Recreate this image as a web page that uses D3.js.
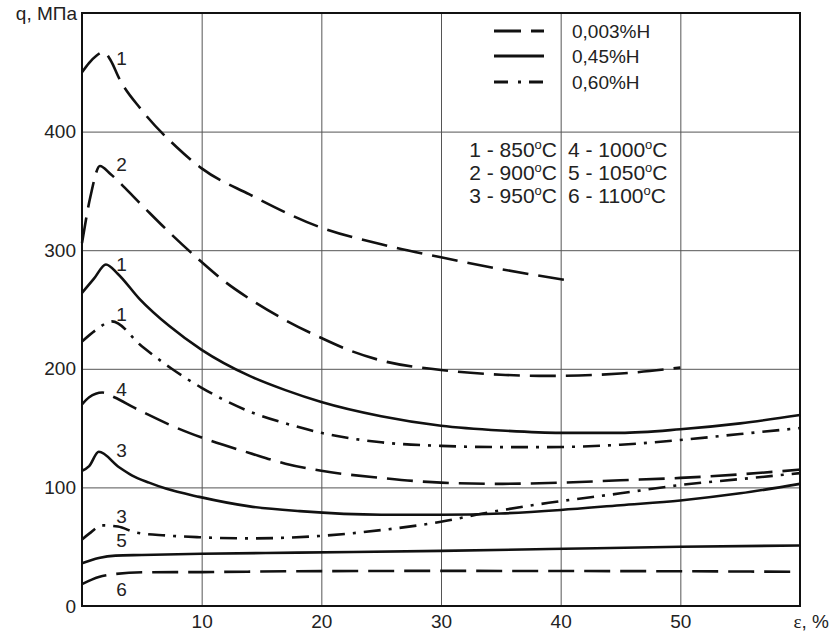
<!DOCTYPE html>
<html lang="ru">
<head>
<meta charset="utf-8">
<title>q(ε)</title>
<script src="https://d3js.org/d3.v7.min.js"></script>
<style>
  body { margin: 0; background: #fff; overflow: hidden; }
  svg { display: block; font-family: "Liberation Sans", Arial, sans-serif; }
  .grid line { stroke: #555; stroke-width: 1; }
  .grid path { display: none; }
  .axis path, .axis line { display: none; }
  .axis text { font-size: 19px; fill: #222; font-family: "Liberation Sans", Arial, sans-serif; }
  .curve { fill: none; stroke: #111; stroke-width: 2.6; stroke-linecap: butt; }
  .lbl { font-size: 19px; fill: #222; }
</style>
</head>
<body>
<script>
// --- data (ε in %, q in MPa) ---
var xTicks = [10, 20, 30, 40, 50];
var yTicks = [0, 100, 200, 300, 400];

// 0,003%H
var epsA1 = [0, 0.6, 1.2, 1.8, 2.4, 3.1, 5, 7.9, 10, 14, 20, 25, 30, 35, 41];
var qA1   = [450, 458, 464, 467, 460, 445, 418, 387, 369, 347, 319, 305, 294, 284, 274];
var epsA2 = [0, 0.7, 1.5, 2.4, 4.8, 7.3, 10, 12, 14, 17, 20, 22.5, 25, 30, 35, 39, 45, 50];
var qA2   = [306, 345, 371, 364, 340, 315, 290, 273, 259, 241, 226, 215, 207, 199, 195, 194, 196, 201];
var epsA4 = [0, 0.6, 1.7, 2.7, 4.4, 5.4, 7.5, 10, 14, 17, 20, 25, 30, 35, 40, 45, 50, 55, 60];
var qA4   = [170, 176, 180, 176, 167, 162, 152, 142, 129, 120, 114, 108, 104, 103, 104, 106, 108, 111, 115];
var epsA6 = [0, 1.4, 2.8, 5.6, 10, 18, 30, 40, 50, 60];
var qA6   = [18.5, 24.5, 27, 28.5, 28.6, 29.3, 29.6, 29.5, 29.3, 28.8];

// 0,45%H
var epsB1 = [0, 1, 2, 3, 4.8, 7.3, 10, 14, 17, 20, 25, 30, 35, 40, 45, 50, 55, 60];
var qB1   = [264, 276, 288, 280, 259, 236, 216, 194, 182, 172, 160, 152, 148, 146, 146, 149, 154, 161];
var epsB3 = [0, 0.6, 1.4, 3.1, 4.2, 5.6, 7, 9.8, 14, 18.2, 25, 30, 35, 40, 45, 50, 55, 60];
var qB3   = [114, 118, 130, 117, 110, 104, 99, 92, 84, 80, 77, 77, 78, 81, 85, 89, 95, 103];
var epsB5 = [0, 1.4, 2.8, 5, 10, 18, 30, 39, 50, 60];
var qB5   = [36, 40.5, 42.5, 43, 44, 45, 46.5, 48, 50, 51];

// 0,60%H
var epsC1 = [0, 1.2, 2.5, 5, 7.5, 10, 14, 17, 20, 25, 30, 35, 39, 45, 50, 55, 60];
var qC1   = [223, 233, 240, 219, 200, 184, 164, 154, 146, 138, 135, 134, 134, 136, 140, 145, 150];
var epsC3 = [0, 0.6, 1.7, 3, 4.5, 7, 9.8, 14, 19.8, 25, 30, 33.5, 39, 45, 50, 55, 60];
var qC3   = [56, 61, 68, 67, 62, 59.5, 58, 57, 59, 64, 71, 78, 87, 95, 102, 107, 112];

var seriesNames = ['0,003%H', '0,45%H', '0,60%H'];
var tempLabels = ['1 - 850', '2 - 900', '3 - 950', '4 - 1000', '5 - 1050', '6 - 1100'];

// curve number labels: [number, ε, q] of the label spot
var curveLabels = [['1', 3.3, 462], ['2', 3.3, 372], ['1', 3.3, 288], ['1', 3.3, 246],
                   ['4', 3.3, 183], ['3', 3.3, 131], ['3', 3.3, 76], ['5', 3.3, 55], ['6', 3.3, 14]];

var dashes = {'0,003%H': '26,10', '0,45%H': null, '0,60%H': '17,8,3,8'};

var curves = [
  {s: '0,003%H', x: epsA1, y: qA1}, {s: '0,003%H', x: epsA2, y: qA2},
  {s: '0,003%H', x: epsA4, y: qA4}, {s: '0,003%H', x: epsA6, y: qA6},
  {s: '0,45%H', x: epsB1, y: qB1}, {s: '0,45%H', x: epsB3, y: qB3},
  {s: '0,45%H', x: epsB5, y: qB5},
  {s: '0,60%H', x: epsC1, y: qC1}, {s: '0,60%H', x: epsC3, y: qC3}
];

// --- layout ---
var W = 832, H = 632;
var mLeft = 82, mRight = 800, mTop = 13, mBottom = 606;

var x = d3.scaleLinear().domain([0, 60]).range([mLeft, mRight]);
var y = d3.scaleLinear().domain([0, 500]).range([mBottom, mTop]);

var svg = d3.select('body').append('svg')
    .attr('width', W)
    .attr('height', H);

// grid
svg.append('g')
    .attr('class', 'grid')
    .attr('transform', 'translate(0,' + mBottom + ')')
    .call(d3.axisBottom(x).tickValues(xTicks).tickSize(-(mBottom - mTop)).tickFormat(''));
svg.append('g')
    .attr('class', 'grid')
    .attr('transform', 'translate(' + mLeft + ',0)')
    .call(d3.axisLeft(y).tickValues(yTicks.slice(1)).tickSize(-(mRight - mLeft)).tickFormat(''));

// tick labels
svg.append('g')
    .attr('class', 'axis')
    .attr('transform', 'translate(0,' + mBottom + ')')
    .call(d3.axisBottom(x).tickValues(xTicks).tickSize(0).tickPadding(9));
svg.append('g')
    .attr('class', 'axis')
    .attr('transform', 'translate(' + mLeft + ',0)')
    .call(d3.axisLeft(y).tickValues(yTicks).tickSize(0).tickPadding(6));

// frame
svg.append('rect')
    .attr('x', mLeft).attr('y', mTop)
    .attr('width', mRight - mLeft).attr('height', mBottom - mTop)
    .attr('fill', 'none').attr('stroke', '#111').attr('stroke-width', 2);

// axis titles
svg.append('text').attr('class', 'lbl')
    .attr('x', 77).attr('y', 20).attr('text-anchor', 'end')
    .text('q, МПа');
var et = svg.append('text').attr('class', 'lbl')
    .attr('x', 829).attr('y', 628).attr('text-anchor', 'end');
et.append('tspan').style('font-family', '"Liberation Serif", "Times New Roman", serif').text('ε');
et.append('tspan').text(', %');

// curves
var line = d3.line()
    .x(function(d) { return x(d[0]); })
    .y(function(d) { return y(d[1]); })
    .curve(d3.curveMonotoneX);

svg.selectAll('.curve')
    .data(curves)
  .enter().append('path')
    .attr('class', 'curve')
    .attr('d', function(c) { return line(d3.zip(c.x, c.y)); })
    .attr('stroke-dasharray', function(c) { return dashes[c.s]; });

// curve numbers
svg.selectAll('.num')
    .data(curveLabels)
  .enter().append('text')
    .attr('class', 'lbl num')
    .attr('x', function(d) { return x(d[1]); })
    .attr('y', function(d) { return y(d[2]); })
    .attr('text-anchor', 'middle')
    .attr('dy', '0.35em')
    .text(function(d) { return d[0]; });

// legend of line styles
var leg = svg.append('g').attr('class', 'legend');
seriesNames.forEach(function(s, i) {
  var ly = [31, 56, 82][i];
  leg.append('line')
      .attr('x1', 494).attr('x2', 544)
      .attr('y1', ly).attr('y2', ly)
      .attr('stroke', '#111').attr('stroke-width', 3)
      .attr('stroke-dasharray', s === '0,003%H' ? '27,10' : (s === '0,60%H' ? '14,10,3,8' : null));
  leg.append('text').attr('class', 'lbl')
      .attr('x', 572).attr('y', ly + 7)
      .text(s);
});

// temperature key
tempLabels.forEach(function(t, i) {
  var col = Math.floor(i / 3), row = i % 3;
  var tx = leg.append('text')
      .attr('x', col === 0 ? 557 : 568)
      .attr('y', 157 + row * 23)
      .attr('text-anchor', col === 0 ? 'end' : 'start')
      .style('font-size', '21px').style('fill', '#222');
  tx.append('tspan').text(t);
  tx.append('tspan').attr('dy', -8).style('font-size', '13px').text('o');
  tx.append('tspan').attr('dy', 8).text('C');
});
</script>
</body>
</html>
